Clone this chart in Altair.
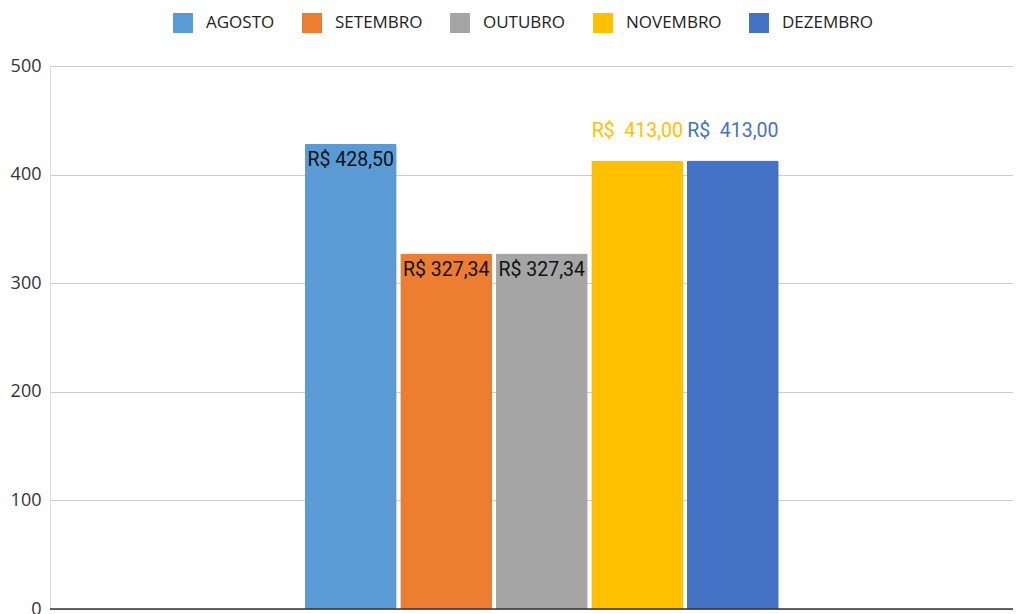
import altair as alt
import pandas as pd

months = ["AGOSTO", "SETEMBRO", "OUTUBRO", "NOVEMBRO", "DEZEMBRO"]
values = [428.50, 327.34, 327.34, 413.00, 413.00]
labels = ["R$ 428,50", "R$ 327,34", "R$ 327,34", "R$\u00a0\u00a0413,00", "R$\u00a0\u00a0413,00"]
inside = [True, True, True, False, False]
colors = ["#5B9BD5", "#ED7D31", "#A5A5A5", "#FFC000", "#4472C4"]
y_ticks = [0, 100, 200, 300, 400, 500]

df = pd.DataFrame({"group": [""] * 5, "month": months, "value": values,
                   "label": labels, "inside": inside})

xscale = alt.Scale(paddingInner=0, paddingOuter=0.5158, align=0.521)
xoff_scale = alt.Scale(domain=months, paddingInner=0.037, paddingOuter=0)
yscale = alt.Scale(domain=[0, 500], nice=False)
cscale = alt.Scale(domain=months, range=colors)

X = alt.X("group:N", scale=xscale, axis=None)
XO = alt.XOffset("month:N", scale=xoff_scale, sort=months)

base = alt.Chart(df)

bars = base.mark_bar(cornerRadiusTopLeft=2, cornerRadiusTopRight=2).encode(
    x=X, xOffset=XO,
    y=alt.Y("value:Q", scale=yscale,
            axis=alt.Axis(values=y_ticks, title=None, domain=False, ticks=False,
                          labelFont="Open Sans", labelFontSize=18, labelColor="#333333",
                          labelPadding=9, gridColor="#cccccc", gridWidth=1)),
    color=alt.Color("month:N", scale=cscale, sort=months,
                    legend=alt.Legend(title=None, orient="none", direction="horizontal",
                                      legendX=123, legendY=-53,
                                      symbolType="square", symbolSize=400,
                                      symbolStrokeWidth=0, symbolOpacity=1,
                                      labelFont="Open Sans", labelFontSize=17,
                                      labelColor="#222222", labelOffset=13,
                                      columnPadding=27)),
)

text_in = base.transform_filter("datum.inside").mark_text(
    font="Roboto", fontSize=19.5, baseline="alphabetic", dy=22, color="#111111"
).encode(
    x=X, xOffset=XO,
    y=alt.Y("value:Q", scale=yscale),
    text="label:N",
)

text_out = base.transform_filter("!datum.inside").mark_text(
    font="Roboto", fontSize=19.5, baseline="alphabetic", dy=-23
).encode(
    x=X, xOffset=XO,
    y=alt.Y("value:Q", scale=yscale),
    text="label:N",
    color=alt.Color("month:N", scale=cscale, sort=months, legend=None),
)

baseline = alt.Chart(pd.DataFrame({"v": [0]})).mark_rule(color="#333333", strokeWidth=1.5).encode(
    y=alt.Y("v:Q", scale=yscale)
)

chart = alt.layer(bars, baseline, text_in, text_out).properties(
    width=963, height=543,
    autosize=alt.AutoSizeParams(type="none"),
    padding={"left": 42, "top": 58, "right": 0, "bottom": 12},
).configure_view(stroke=None).configure(background="white")

chart.save("out.html", embed_options={"renderer": "svg", "actions": False})
